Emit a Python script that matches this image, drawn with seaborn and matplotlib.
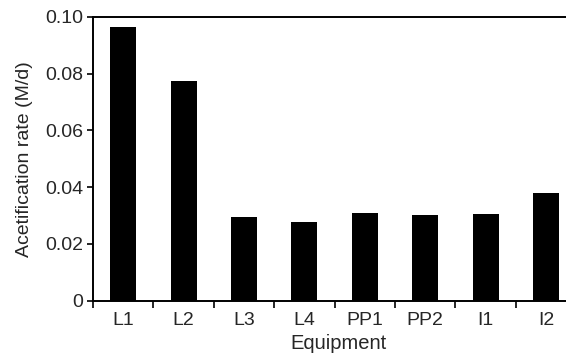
import numpy as np
import pandas as pd
import matplotlib
matplotlib.use('Agg')
import matplotlib.pyplot as plt
import seaborn as sns

equipment = ['L1', 'L2', 'L3', 'L4', 'PP1', 'PP2', 'I1', 'I2']
rate = [0.0965, 0.0774, 0.0296, 0.0279, 0.0308, 0.0303, 0.0306, 0.0379]
yticks = [0, 0.02, 0.04, 0.06, 0.08, 0.10]
ytick_labels = ['0', '0.02', '0.04', '0.06', '0.08', '0.10']

df = pd.DataFrame({'Equipment': equipment, 'rate': rate})

sns.set_style('white')
plt.rcParams['font.family'] = ['Liberation Sans', 'DejaVu Sans']

fig = plt.figure(figsize=(5.66, 3.56), dpi=100)
ax = fig.add_axes([0.1643, 0.1553, 0.8357, 0.797])

sns.barplot(data=df, x='Equipment', y='rate', color='black', width=0.43,
            saturation=1, ax=ax, edgecolor='black', linewidth=0)

ax.set_xlim(-0.5, 7.33)
ax.set_ylim(0, 0.10)
ax.set_yticks(yticks)
ax.set_yticklabels(ytick_labels)

# boundary ticks between categories, labels sit under the bars
ax.set_xticks(np.arange(-0.5, 7.0, 1.0), minor=True)
ax.tick_params(axis='x', which='major', length=0, pad=8, labelsize=14)
ax.tick_params(axis='x', which='minor', length=4.8, width=1.2, direction='out',
               color='black', bottom=True)
ax.tick_params(axis='y', length=4.5, width=1.2, direction='out', color='black',
               left=True, pad=2.5, labelsize=14)

for side in ['left', 'bottom', 'top']:
    ax.spines[side].set_color('black')
    ax.spines[side].set_linewidth(1.4)
ax.spines['right'].set_visible(False)

ax.set_xlabel('Equipment', fontsize=14.5, va='top')
ax.xaxis.set_label_coords(0.518, -0.118)
ax.set_ylabel('Acetification rate (M/d)', fontsize=14, va='center')
ax.yaxis.set_label_coords(-0.144, 0.5)

plt.savefig('out.png', dpi=100)
